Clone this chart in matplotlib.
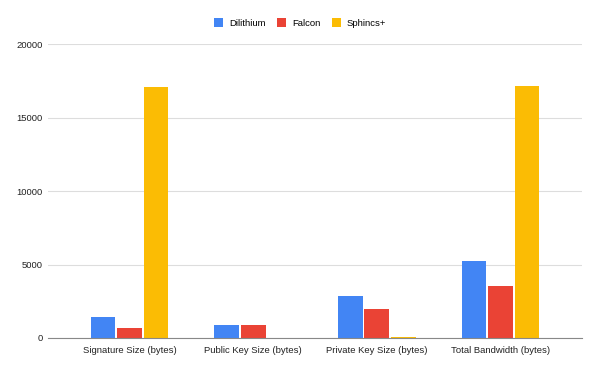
import numpy as np
import matplotlib.pyplot as plt

plt.rcParams['font.family'] = ['Liberation Sans', 'DejaVu Sans']

categories = ["Signature Size (bytes)", "Public Key Size (bytes)",
              "Private Key Size (bytes)", "Total Bandwidth (bytes)"]
dilithium = [1450, 880, 2880, 5260]
falcon = [666, 897, 1950, 3560]
sphincs = [17088, 32, 64, 17184]

series = [("Dilithium", dilithium, "#4285F4"),
          ("Falcon", falcon, "#EA4335"),
          ("Sphincs+", sphincs, "#FBBC04")]

fig = plt.figure(figsize=(6, 3.71), dpi=100)
ax = fig.add_axes([0.08, 0.089, 0.89, 0.792])

x = np.arange(len(categories))
for i, (name, vals, color) in enumerate(series):
    ax.bar(x + (i - 1) * 0.214, vals, width=0.2, color=color, label=name, zorder=3)

ax.set_xlim(-0.66, 3.66)
ax.set_ylim(0, 20000)
ax.set_yticks([0, 5000, 10000, 15000, 20000])
ax.set_xticks(x)
ax.set_xticklabels(categories)
ax.tick_params(axis="both", length=0, labelsize=6.8, colors="#222222")
ax.tick_params(axis="y", pad=4)
ax.tick_params(axis="x", pad=6)
ax.grid(axis="y", color="#dddddd", linewidth=0.8, zorder=0)
for s in ["top", "right", "left"]:
    ax.spines[s].set_visible(False)
ax.spines["bottom"].set_color("#888888")
ax.spines["bottom"].set_zorder(4)

handles, labels = ax.get_legend_handles_labels()
fig.legend(handles, labels, loc="center", bbox_to_anchor=(0.5, 1 - 23 / 371),
           ncol=3, frameon=False, fontsize=6.8, handlelength=1.0,
           handleheight=1.0, columnspacing=1.2, handletextpad=0.6)

plt.savefig("out.png", dpi=100)
